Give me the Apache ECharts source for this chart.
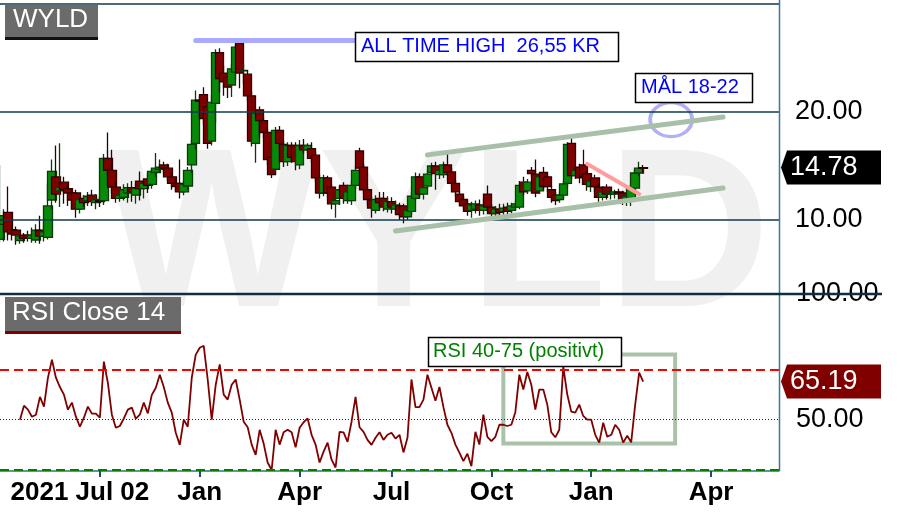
<!DOCTYPE html>
<html>
<head>
<meta charset="utf-8">
<script src="https://cdn.jsdelivr.net/npm/echarts@6/dist/echarts.min.js"></script>
<style>
html,body{margin:0;padding:0;background:#ffffff;}
#chart{width:901px;height:515px;}
</style>
</head>
<body>
<div id="chart"></div>
<script>
// ---------- DATA ----------
const slotCount = 196;                       // time slots on the x axis (incl. empty future)
const xLabelSlots = [20, 50, 75, 98, 123, 148, 178];
const xLabelTexts = ['2021 Jul 02', 'Jan', 'Apr', 'Jul', 'Oct', 'Jan', 'Apr'];
const xTickSlots  = [25, 50, 75, 98, 123, 148, 178];
const priceGridLevels = [10, 20, 30];
const priceLabelValues = [10, 20];
const rsiLabelValues = [50, 100];
const rsiOver = 70, rsiMid = 50, rsiUnder = 30;
const lastClose = 14.78;
const lastRsi = 65.19;

// candles: [open, close, low, high]
const candles = [
 [8.2,10.4,7.9,15.1],[9.6,10.0,8.0,11.0],[10.7,8.9,8.1,13.1],[9.1,8.7,8.1,9.6],[9.07,8.6,7.7,9.4],
 [8.1,8.5,7.8,8.9],[8.6,8.3,7.9,8.8],[8.6,8.35,8.0,9.0],[8.3,8.6,7.9,9.3],[8.15,9.07,7.9,9.6],
 [9.07,8.5,7.8,10.4],[8.5,8.9,8.0,9.8],[8.4,11.3,8.2,13.4],[11.85,14.5,11.0,15.6],[14.0,12.4,11.6,16.9],
 [12.7,13.0,11.2,17.1],[13.5,12.8,11.5,14.0],[12.9,12.5,11.3,13.3],[12.5,11.85,11.0,12.9],[12.5,11.0,10.2,12.8],
 [11.0,11.9,10.6,12.4],[12.0,11.6,11.2,12.3],[11.8,12.2,11.3,12.6],[12.3,11.7,11.3,12.8],[11.6,11.9,11.0,12.4],
 [11.8,11.7,11.2,12.2],[11.8,15.7,11.4,16.1],[15.7,14.6,14.0,18.1],[14.6,13.05,12.5,16.5],[13.05,12.0,11.6,13.5],
 [12.0,12.3,11.7,12.7],[12.1,12.8,11.8,13.3],[12.5,13.0,11.6,13.4],[13.0,12.6,11.7,13.6],[12.3,12.9,11.5,13.3],
 [13.6,12.9,11.8,14.5],[12.9,13.4,12.0,13.7],[13.8,13.2,12.5,14.3],[13.3,14.5,12.9,14.8],[14.4,14.8,14.0,16.2],
 [14.7,14.9,14.4,15.6],[15.1,14.8,14.4,15.4],[14.8,14.0,13.6,15.2],[14.0,13.4,12.8,14.3],[13.4,13.1,12.6,13.8],
 [13.4,12.6,12.0,15.6],[12.6,13.3,12.3,13.6],[13.15,14.6,12.8,14.9],[15.1,17.0,14.3,17.4],[17.1,21.1,16.5,22.0],
 [21.1,21.0,20.0,21.5],[21.6,19.4,18.8,22.3],[20.5,17.1,16.6,21.0],[17.3,20.9,16.9,21.6],[20.8,25.5,19.0,25.8],
 [25.5,23.1,21.8,25.9],[23.6,22.8,21.5,24.3],[23.2,22.3,21.3,23.6],[22.5,24.0,21.4,24.4],[23.7,26.0,23.0,26.3],
 [26.4,23.6,22.2,26.55],[23.8,23.85,22.6,24.5],[23.5,21.5,21.0,23.9],[21.5,17.3,16.8,21.9],[17.1,19.9,15.3,20.3],
 [20.2,19.2,17.6,20.5],[19.2,18.1,17.6,19.5],[18.1,15.6,15.1,18.4],[15.8,14.2,13.9,16.1],[14.7,18.3,14.3,18.6],
 [18.3,17.1,16.5,18.7],[17.0,15.4,14.9,17.3],[15.4,16.9,15.0,17.2],[16.9,15.8,15.3,17.2],[16.9,15.4,14.6,17.2],
 [15.1,16.9,14.7,17.4],[16.9,16.5,16.1,17.5],[16.5,16.9,16.2,17.1],[16.6,15.7,15.3,17.2],[16.0,13.9,13.5,16.3],
 [13.9,12.5,12.0,14.2],[12.5,13.9,12.2,14.2],[13.9,12.5,12.1,14.1],[13.05,11.5,11.0,13.3],[11.5,11.8,10.2,12.0],
 [12.0,12.8,11.4,13.1],[13.2,12.0,11.5,13.5],[11.8,12.6,11.5,13.0],[11.8,13.2,11.4,13.6],[13.2,14.6,12.9,15.0],
 [16.4,14.8,14.5,16.7],[14.9,12.8,12.4,15.2],[12.8,11.9,11.4,13.1],[11.85,11.1,10.2,12.2],[10.9,11.9,10.6,12.3],
 [12.0,11.6,11.0,12.6],[12.0,11.2,10.8,12.6],[11.0,11.7,10.7,12.2],[11.7,11.2,10.6,12.1],[11.0,11.4,10.5,11.8],
 [11.3,10.5,10.0,11.6],[11.3,10.3,9.7,11.5],[10.3,10.9,10.0,11.3],[10.8,12.2,10.5,12.6],[12.0,14.0,11.8,14.4],
 [14.0,12.4,12.1,14.3],[12.4,13.0,11.9,13.3],[13.15,14.25,12.9,14.6],[14.4,15.0,14.1,15.3],[15.0,14.3,12.8,15.4],
 [14.2,14.6,13.8,14.9],[14.2,15.1,13.9,15.4],[15.1,14.4,14.1,16.2],[14.45,13.4,13.1,14.8],[13.4,12.6,12.2,13.7],
 [12.4,11.7,11.3,12.7],[11.9,11.3,11.0,12.2],[11.5,10.8,10.4,11.8],[10.9,11.4,10.2,11.7],[11.0,11.5,10.6,11.8],
 [11.4,10.9,10.4,11.9],[10.9,11.3,10.5,12.0],[12.4,11.2,10.8,13.2],[11.2,10.6,10.2,11.5],[10.6,11.0,10.2,11.3],
 [11.0,10.7,10.3,11.5],[10.8,11.1,10.3,11.5],[11.2,10.8,10.5,11.6],[10.9,11.3,10.6,11.6],[11.2,11.5,10.9,11.8],
 [11.2,13.2,11.0,13.6],[13.5,12.6,12.3,14.0],[12.7,13.5,12.4,13.8],[14.6,14.3,14.0,14.9],[14.25,12.5,12.1,15.6],
 [12.7,14.0,12.4,14.3],[14.4,13.1,12.8,14.9],[14.0,13.1,12.6,14.3],[12.8,12.1,11.6,13.1],[12.3,11.8,11.4,12.6],
 [11.9,12.3,11.6,12.6],[12.3,13.35,12.0,13.6],[13.4,17.0,13.1,17.2],[17.1,14.1,13.8,17.9],[14.1,14.6,13.8,14.9],
 [14.9,13.9,13.4,15.2],[15.1,14.0,13.5,16.5],[14.3,13.3,12.7,14.5],[13.1,13.6,12.6,13.9],[13.9,13.1,12.6,14.2],
 [13.05,12.1,11.7,13.3],[12.1,12.6,11.8,12.9],[13.05,12.4,11.9,13.3],[12.4,12.5,11.9,12.8],[12.4,12.6,12.0,12.8],
 [12.6,12.5,12.1,12.9],[12.5,11.85,11.4,12.7],[11.85,12.2,11.3,12.4],[11.8,13.0,11.3,13.3],[12.96,14.35,12.6,14.6],
 [14.35,14.8,14.1,15.4],[14.85,14.78,14.3,15.1]
];

// RSI (Close, 14)
const rsi = [
 null,null,null,null,null,50,55.6,54,51.2,52,
 59.1,55.2,66.7,73.9,66.7,63,60,54,56.8,51.2,
 47.2,50.8,55.2,52.4,52.4,50.8,73.1,64.7,52,46.8,
 47.5,50.5,54,54.8,50.4,52,56.8,52.5,59.9,62.7,
 67.9,63,56.8,52.8,44.8,40,50,47.2,66.7,75.9,
 78.6,79.4,65.9,50,63.9,72,60,58,63.9,66,
 58,49.2,47,40.1,36,46,40.5,33,30,46,
 40.1,45,46,45,39,46.8,49,50.5,44,40.1,
 33,37.3,40.9,34.1,31,45.2,45,41.2,49.2,59.1,
 47,45.2,42,40,42.8,45,42,44,44.8,42.5,
 44,37,42.8,66,55,55,58,67.9,62.7,57.5,
 63,55,48,44.8,40.1,36.9,33.5,36.5,31.5,45.2,
 40.1,52,43.2,41.5,43.2,48,48,47.5,48,53,
 67.9,62,69,63.9,54,62,62,56,45,43,
 46,71.1,60,53.2,52.8,56,51.5,50,50,44,
 40.9,48.8,43.2,44,48,46,40.9,43.6,41,56,
 68.7,65.19
];

// drawn annotations, in data space: [slot, value]
const athLine        = [[49, 26.6], [89, 26.6]];
const channelUpper   = [[107, 16.03], [181, 19.54]];
const channelLower   = [[99, 8.98], [181, 12.96]];
const pullbackLine   = [[147, 15.19], [160, 12.4]];
const targetZone     = [168, 19.3];
const rsiPositiveBox = [[126, 75.9], [169, 40.5]];

// ---------- CHART ----------
const FONT = '"Liberation Sans", Arial, sans-serif';
const slots = Array.from({length: slotCount}, (_, i) => String(i));
const chart = echarts.init(document.getElementById('chart'), null, {renderer: 'canvas'});

const seg = (pts, style) => [
  {coord: pts[0], lineStyle: style},
  {coord: pts[1]}
];

const option = {
  animation: false,
  backgroundColor: '#ffffff',
  grid: [
    {left: 0, top: 4, width: 779, height: 324, containLabel: false, outerBoundsMode: 'none'},
    {left: 0, top: 294, width: 779, height: 176, containLabel: false, outerBoundsMode: 'none'}
  ],
  xAxis: [
    {type: 'category', gridIndex: 0, data: slots, boundaryGap: false, show: false},
    {
      type: 'category', gridIndex: 1, data: slots, boundaryGap: false, offset: 1,
      axisLine: {show: true, lineStyle: {color: '#2f6f8f', width: 1.5}},
      axisTick: {show: true, interval: (i) => xTickSlots.includes(i), length: 6,
                 lineStyle: {color: '#1d4e6e', width: 2}},
      axisLabel: {
        show: true,
        interval: (i) => xLabelSlots.includes(i),
        formatter: (v, i) => { const k = xLabelSlots.indexOf(i); return k >= 0 ? xLabelTexts[k] : ''; },
        fontSize: 26, fontWeight: 'bold', color: '#000', fontFamily: FONT, margin: 9
      },
      splitLine: {show: false}
    }
  ],
  yAxis: [
    {
      type: 'value', gridIndex: 0, position: 'right', min: 0, max: 30, interval: 10,
      axisLine: {show: false}, axisTick: {show: false}, splitLine: {show: false},
      axisLabel: {formatter: v => priceLabelValues.includes(v) ? v.toFixed(2) : '',
                  fontSize: 27, color: '#000', fontFamily: FONT, margin: 16}
    },
    {
      type: 'value', gridIndex: 1, position: 'right', min: 30, max: 100, interval: 10,
      axisLine: {show: false}, axisTick: {show: false}, splitLine: {show: false},
      axisLabel: {formatter: v => rsiLabelValues.includes(v) ? v.toFixed(2) : '',
                  fontSize: 27, color: '#000', fontFamily: FONT, margin: 17}
    }
  ],
  series: [
    {
      type: 'candlestick', xAxisIndex: 0, yAxisIndex: 0, data: candles,
      barWidth: 9,
      itemStyle: {color: '#078a07', color0: '#800000', borderColor: '#0b3a0b',
                  borderColor0: '#2e0000', borderWidth: 1.3},
      markLine: {
        silent: true, symbol: ['none', 'none'], label: {show: false}, animation: false,
        data: [
          ...priceGridLevels.map(v => ({yAxis: v, lineStyle: {color: '#0f3a4d', width: 1.5, type: 'solid'}})),
          seg(athLine, {color: '#a9a9ff', width: 5, type: 'solid', cap: 'round'}),
          seg(channelUpper, {color: '#a8bfa8', width: 5, type: 'solid', cap: 'round'}),
          seg(channelLower, {color: '#a8bfa8', width: 5, type: 'solid', cap: 'round'}),
          seg(pullbackLine, {color: '#ff9d9d', width: 4, type: 'solid', cap: 'round'})
        ]
      },
      z: 3
    },
    {
      type: 'scatter', xAxisIndex: 0, yAxisIndex: 0, data: [targetZone],
      symbol: 'circle', symbolSize: [42, 34], silent: true,
      itemStyle: {color: 'rgba(0,0,0,0)', borderColor: '#9c9cf2', borderWidth: 3.5},
      z: 4
    },
    {
      type: 'line', xAxisIndex: 1, yAxisIndex: 1, data: rsi, showSymbol: false,
      lineStyle: {color: '#800000', width: 1.8}, silent: true,
      markLine: {
        silent: true, symbol: ['none', 'none'], label: {show: false}, animation: false,
        data: [
          {yAxis: rsiOver, lineStyle: {color: '#ff0000', width: 2, type: [9, 5]}},
          {yAxis: rsiMid, lineStyle: {color: '#0b2a3a', width: 1, type: [1, 2]}},
          {yAxis: rsiUnder, lineStyle: {color: '#008000', width: 2, type: [9, 5]}}
        ]
      },
      markArea: {
        silent: true,
        itemStyle: {color: 'rgba(0,0,0,0)', borderColor: '#aac1aa', borderWidth: 4},
        data: [[{coord: rsiPositiveBox[0]}, {coord: rsiPositiveBox[1]}]]
      },
      z: 3
    }
  ]
};
chart.setOption(option);

// ---------- annotations & value tags (positions from the chart's own scales) ----------
const yLast = chart.convertToPixel({yAxisIndex: 0}, lastClose);
const yRsi = chart.convertToPixel({yAxisIndex: 1}, lastRsi);
const y100 = chart.convertToPixel({yAxisIndex: 1}, 100);

function tag(y, fill, text) {
  return [
    {type: 'polygon', z: 60, shape: {points: [[781, y], [787, y - 17], [881, y - 17], [881, y + 17], [787, y + 17]]},
     style: {fill: fill}},
    {type: 'text', z: 61, style: {x: 790, y: y, text: text, fill: '#ffffff', fontSize: 27, fontFamily: FONT,
     verticalAlign: 'middle', align: 'left'}}
  ];
}
function box(x, y, w, h, text, color, tx, ty) {
  return [
    {type: 'rect', z: 55, shape: {x: x, y: y, width: w, height: h},
     style: {fill: '#ffffff', stroke: '#000000', lineWidth: 1.5}},
    {type: 'text', z: 56, style: {x: tx, y: ty, text: text, fill: color, fontSize: 20, fontFamily: FONT,
     verticalAlign: 'middle', align: 'left'}}
  ];
}

chart.setOption({
  graphic: [
    {type: 'text', z: -10, silent: true,
     style: {x: 105, y: 244, text: 'WYLD', fill: '#f0f0f0', fontSize: 226, fontWeight: 'bold',
             fontFamily: FONT, verticalAlign: 'middle', align: 'left'}},
    {type: 'line', z: 50, shape: {x1: 779.5, y1: 0, x2: 779.5, y2: 471},
     style: {stroke: '#3b7797', lineWidth: 1.5}},
    {type: 'line', z: 50, shape: {x1: 0, y1: y100, x2: 882, y2: y100},
     style: {stroke: '#0c2e3d', lineWidth: 2.5}},
    {type: 'rect', z: 55, shape: {x: 5, y: 5, width: 93, height: 32}, style: {fill: '#6b6b6b'}},
    {type: 'rect', z: 55, shape: {x: 5, y: 37, width: 93, height: 3}, style: {fill: '#111111'}},
    {type: 'text', z: 56, style: {x: 13, y: 20, text: 'WYLD', fill: '#ffffff', fontSize: 26, fontFamily: FONT,
     verticalAlign: 'middle'}},
    {type: 'rect', z: 55, shape: {x: 5, y: 297, width: 176, height: 34}, style: {fill: '#6b6b6b'}},
    {type: 'rect', z: 55, shape: {x: 5, y: 331, width: 176, height: 3}, style: {fill: '#800000'}},
    {type: 'text', z: 56, style: {x: 12, y: 313, text: 'RSI Close 14', fill: '#ffffff', fontSize: 26,
     fontFamily: FONT, verticalAlign: 'middle'}},
    ...box(355.5, 32.5, 263, 29, 'ALL TIME HIGH  26,55 KR', '#0000ff', 361, 46.5),
    ...box(635.5, 73.5, 117, 29, 'MÅL 18-22', '#0000ff', 641, 87),
    ...box(428.5, 337.5, 193, 29, 'RSI 40-75 (positivt)', '#008000', 433, 351),
    ...tag(yLast - 1, '#000000', lastClose.toFixed(2)),
    ...tag(yRsi, '#800000', lastRsi.toFixed(2))
  ]
});
</script>
</body>
</html>
